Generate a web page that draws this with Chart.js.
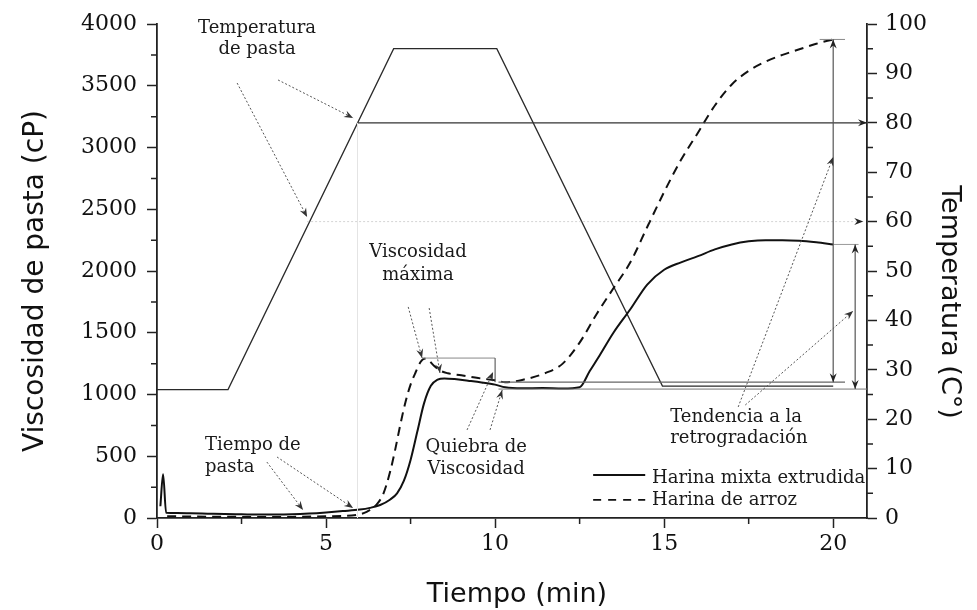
<!DOCTYPE html>
<html lang="es">
<head>
<meta charset="utf-8">
<title>Viscosidad de pasta</title>
<script src="https://cdn.jsdelivr.net/npm/chart.js@4.4.1/dist/chart.umd.min.js"></script>
<style>
  html, body { margin: 0; padding: 0; background: #fff; }
  #grafico { display: block; }
</style>
</head>
<body>
<canvas id="grafico" width="977" height="610"></canvas>
<script>
// Harina mixta extrudida: tiempo (min) y viscosidad (cP)
const TIEMPO_MIXTA = [0.10, 0.18, 0.27, 0.6, 1, 1.5, 2, 2.5, 3, 3.5, 4, 4.5, 5, 5.5, 6, 6.3, 6.6, 6.9,
  7.1, 7.3, 7.5, 7.7, 7.9, 8.1, 8.3, 8.5, 8.8, 9.2, 9.6, 10, 10.3, 10.8, 11.4, 12, 12.5, 12.8, 13.1,
  13.5, 14, 14.5, 15, 15.5, 16, 16.5, 17, 17.5, 18, 18.5, 19, 19.5, 20];
const VISC_MIXTA = [95, 355, 42, 40, 38, 35, 32, 30, 28, 28, 30, 36, 45, 56, 68, 82, 105, 150,
  200, 300, 470, 700, 930, 1070, 1120, 1130, 1125, 1112, 1098, 1080, 1058, 1050, 1052, 1048, 1058, 1190, 1320,
  1500, 1690, 1890, 2010, 2070, 2120, 2175, 2215, 2240, 2250, 2250, 2245, 2232, 2215];

// Harina de arroz
const TIEMPO_ARROZ = [0.3, 1, 2, 3, 4, 5, 5.9, 6.2, 6.5, 6.7, 6.9, 7.05, 7.2, 7.35, 7.5, 7.65, 7.8, 7.9,
  8.0, 8.2, 8.4, 8.6, 9, 9.5, 10, 10.3, 10.8, 11.5, 12, 12.5, 13, 13.5, 14, 14.5, 15, 15.5, 16, 16.5,
  17, 17.5, 18, 18.5, 19, 19.5, 20];
const VISC_ARROZ = [15, 12, 10, 8, 9, 14, 25, 50, 110, 200, 380, 560, 760, 940, 1080, 1180, 1265, 1290,
  1285, 1230, 1190, 1172, 1155, 1133, 1115, 1100, 1118, 1175, 1250, 1420, 1650, 1860, 2070, 2356, 2640, 2900, 3120, 3340,
  3510, 3620, 3695, 3750, 3795, 3840, 3875];

// perfil de temperatura (°C)
const TIEMPO_TEMP = [0, 2.1, 7.0, 10.05, 14.95, 20];
const TEMPERATURA = [26, 26, 95, 95, 26.7, 26.7];

const SERIES = ['Harina mixta extrudida', 'Harina de arroz'];

const TICKS_X = [0, 5, 10, 15, 20];
const TICKS_VISC = [0, 500, 1000, 1500, 2000, 2500, 3000, 3500, 4000];
const TICKS_TEMP = [0, 10, 20, 30, 40, 50, 60, 70, 80, 90, 100];

const puntos = (xs, ys) => xs.map((t, i) => ({ x: t, y: ys[i] }));
const medios = arr => arr.slice(1).map((v, i) => (v + arr[i]) / 2);

// líneas guía (tiempo, cP)
const GUIAS = [
  { de: [5.93, 3200], a: [21, 3200], color: '#333', ancho: 1.2, flecha: 'fin' },
  { de: [5.93, 3200], a: [5.93, 0], color: '#e4e4e4', ancho: 1 },
  { de: [4.44, 2400], a: [20.89, 2400], color: '#d4d4d4', ancho: 1, trazo: [2, 2], flecha: 'fin' },
  { de: [7.84, 1295], a: [10.0, 1295], color: '#888', ancho: 1 },
  { de: [10.0, 1295], a: [10.0, 1100], color: '#444', ancho: 1 },
  { de: [10.1, 1100], a: [20.35, 1100], color: '#666', ancho: 1.3 },
  { de: [10.1, 1044], a: [21, 1044], color: '#777', ancho: 1 },
  { de: [19.6, 3875], a: [20.35, 3875], color: '#888', ancho: 1 },
  { de: [20.0, 2215], a: [20.75, 2215], color: '#999', ancho: 1 },
  { de: [20.0, 1100], a: [20.0, 3875], color: '#555', ancho: 1.2, flecha: 'ambas' },
  { de: [20.65, 1044], a: [20.65, 2215], color: '#555', ancho: 1.2, flecha: 'ambas' }
];

// flechas punteadas de las notas
const FLECHAS = [
  [[2.37, 3522], [4.44, 2437]],
  [[3.58, 3547], [5.80, 3239]],
  [[7.43, 1709], [7.84, 1296]],
  [[8.05, 1700], [8.37, 1174]],
  [[9.17, 713], [9.94, 1182]],
  [[9.85, 713], [10.21, 1036]],
  [[3.25, 453], [4.32, 65]],
  [[3.55, 494], [5.80, 81]],
  [[17.19, 899], [20.0, 2923]],
  [[17.40, 915], [20.59, 1676]]
];

const NOTAS = [
  { lineas: ['Temperatura', 'de pasta'], t: 2.96, v: 3927, alinear: 'center', paso: 21 },
  { lineas: ['Viscosidad', 'máxima'], t: 7.72, v: 2113, alinear: 'center', paso: 23 },
  { lineas: ['Quiebra de', 'Viscosidad'], t: 9.44, v: 534, alinear: 'center', paso: 22 },
  { lineas: ['Tiempo de', 'pasta'], t: 1.42, v: 551, alinear: 'left', paso: 22 },
  { lineas: ['Tendencia a la', 'retrogradación'], t: 15.18, v: 777, alinear: 'left', paso: 21 }
];

function punta(ctx, x0, y0, x1, y1) {
  const ang = Math.atan2(y1 - y0, x1 - x0);
  ctx.save();
  ctx.translate(x1, y1);
  ctx.rotate(ang);
  ctx.setLineDash([]);
  ctx.beginPath();
  ctx.moveTo(0, 0);
  ctx.lineTo(-9, -3.5);
  ctx.lineTo(-6, 0);
  ctx.lineTo(-9, 3.5);
  ctx.closePath();
  ctx.fill();
  ctx.restore();
}

const anotaciones = {
  id: 'anotaciones',
  afterDatasetsDraw(chart) {
    const { ctx, chartArea: area, scales: { x, y, y2 } } = chart;
    const px = t => x.getPixelForValue(t);
    const py = v => y.getPixelForValue(v);
    ctx.save();

    // marcas menores
    ctx.strokeStyle = '#222';
    ctx.lineWidth = 1.5;
    ctx.beginPath();
    medios(TICKS_X).forEach(t => { ctx.moveTo(px(t), area.bottom); ctx.lineTo(px(t), area.bottom + 6); });
    medios(TICKS_VISC).forEach(v => { ctx.moveTo(area.left, py(v)); ctx.lineTo(area.left - 6, py(v)); });
    medios(TICKS_TEMP).forEach(v => {
      const yy = y2.getPixelForValue(v);
      ctx.moveTo(area.right, yy); ctx.lineTo(area.right + 6, yy);
    });
    ctx.stroke();

    // guías
    GUIAS.forEach(g => {
      const x0 = px(g.de[0]), y0 = py(g.de[1]), x1 = px(g.a[0]), y1 = py(g.a[1]);
      ctx.strokeStyle = g.color;
      ctx.lineWidth = g.ancho;
      ctx.setLineDash(g.trazo || []);
      ctx.beginPath();
      ctx.moveTo(x0, y0);
      ctx.lineTo(x1, y1);
      ctx.stroke();
      ctx.fillStyle = '#222';
      if (g.flecha) punta(ctx, x0, y0, x1, y1);
      if (g.flecha === 'ambas') punta(ctx, x1, y1, x0, y0);
    });

    // flechas de notas
    ctx.strokeStyle = '#555';
    ctx.fillStyle = '#333';
    ctx.lineWidth = 1;
    FLECHAS.forEach(([de, a]) => {
      const x0 = px(de[0]), y0 = py(de[1]), x1 = px(a[0]), y1 = py(a[1]);
      ctx.setLineDash([2, 2]);
      ctx.beginPath();
      ctx.moveTo(x0, y0);
      ctx.lineTo(x1, y1);
      ctx.stroke();
      punta(ctx, x0, y0, x1, y1);
    });
    ctx.setLineDash([]);

    // notas
    ctx.fillStyle = '#1a1a1a';
    ctx.font = '18px "DejaVu Serif"';
    ctx.textBaseline = 'alphabetic';
    NOTAS.forEach(n => {
      ctx.textAlign = n.alinear;
      n.lineas.forEach((l, i) => ctx.fillText(l, px(n.t), py(n.v) + i * n.paso));
    });

    // leyenda
    ctx.textAlign = 'left';
    ctx.strokeStyle = '#111';
    ctx.lineWidth = 1.8;
    [[348, 283, []], [146, 105, [8, 7]]].forEach(([vLinea, vTexto, trazo], i) => {
      ctx.setLineDash(trazo);
      ctx.beginPath();
      ctx.moveTo(px(12.9), py(vLinea));
      ctx.lineTo(px(14.44), py(vLinea));
      ctx.stroke();
      ctx.fillText(SERIES[i], px(14.64), py(vTexto));
    });
    ctx.setLineDash([]);

    // títulos de ejes
    ctx.fillStyle = '#111';
    ctx.font = '27px "DejaVu Sans"';
    ctx.textAlign = 'center';
    ctx.fillText('Tiempo (min)', 517, 602);
    ctx.save();
    ctx.translate(43, 281);
    ctx.rotate(-Math.PI / 2);
    ctx.font = '28px "DejaVu Sans"';
    ctx.fillText('Viscosidad de pasta (cP)', 0, 0);
    ctx.restore();
    ctx.save();
    ctx.translate(942, 302);
    ctx.rotate(Math.PI / 2);
    ctx.fillText('Temperatura (C°)', 0, 0);
    ctx.restore();

    ctx.restore();
  }
};

const fuenteTicks = { family: 'DejaVu Serif', size: 22 };
const sinSeparador = v => String(v);
const ejeBase = {
  grid: { drawOnChartArea: false, tickLength: 10, tickColor: '#222', tickWidth: 1.5 },
  border: { color: '#222', width: 1.8 }
};

new Chart(document.getElementById('grafico'), {
  type: 'line',
  data: {
    datasets: [
      {
        label: SERIES[0],
        data: puntos(TIEMPO_MIXTA, VISC_MIXTA),
        borderColor: '#111',
        borderWidth: 2,
        pointRadius: 0,
        cubicInterpolationMode: 'monotone',
        yAxisID: 'y'
      },
      {
        label: SERIES[1],
        data: puntos(TIEMPO_ARROZ, VISC_ARROZ),
        borderColor: '#111',
        borderWidth: 2,
        borderDash: [9, 6],
        pointRadius: 0,
        cubicInterpolationMode: 'monotone',
        yAxisID: 'y'
      },
      {
        label: 'Temperatura',
        data: puntos(TIEMPO_TEMP, TEMPERATURA),
        borderColor: '#2a2a2a',
        borderWidth: 1.3,
        pointRadius: 0,
        tension: 0,
        yAxisID: 'y2'
      }
    ]
  },
  options: {
    responsive: false,
    animation: false,
    devicePixelRatio: 1,
    layout: { padding: { top: 24, left: 0, right: 0, bottom: 0 } },
    plugins: { legend: { display: false }, tooltip: { enabled: false } },
    scales: {
      x: {
        ...ejeBase,
        type: 'linear',
        min: 0,
        max: 21,
        afterBuildTicks: s => { s.ticks = TICKS_X.map(v => ({ value: v })); },
        afterFit: s => { s.height = 92; },
        ticks: { font: fuenteTicks, color: '#111', padding: 3, maxRotation: 0, callback: sinSeparador }
      },
      y: {
        ...ejeBase,
        position: 'left',
        min: 0,
        max: 4000,
        afterBuildTicks: s => { s.ticks = TICKS_VISC.map(v => ({ value: v })); },
        afterFit: s => { s.width = 157; },
        ticks: { font: fuenteTicks, color: '#111', padding: 10, callback: sinSeparador }
      },
      y2: {
        ...ejeBase,
        position: 'right',
        min: 0,
        max: 100,
        afterBuildTicks: s => { s.ticks = TICKS_TEMP.map(v => ({ value: v })); },
        afterFit: s => { s.width = 110; },
        ticks: { font: fuenteTicks, color: '#111', padding: 8, callback: sinSeparador }
      }
    }
  },
  plugins: [anotaciones]
});
</script>
</body>
</html>
